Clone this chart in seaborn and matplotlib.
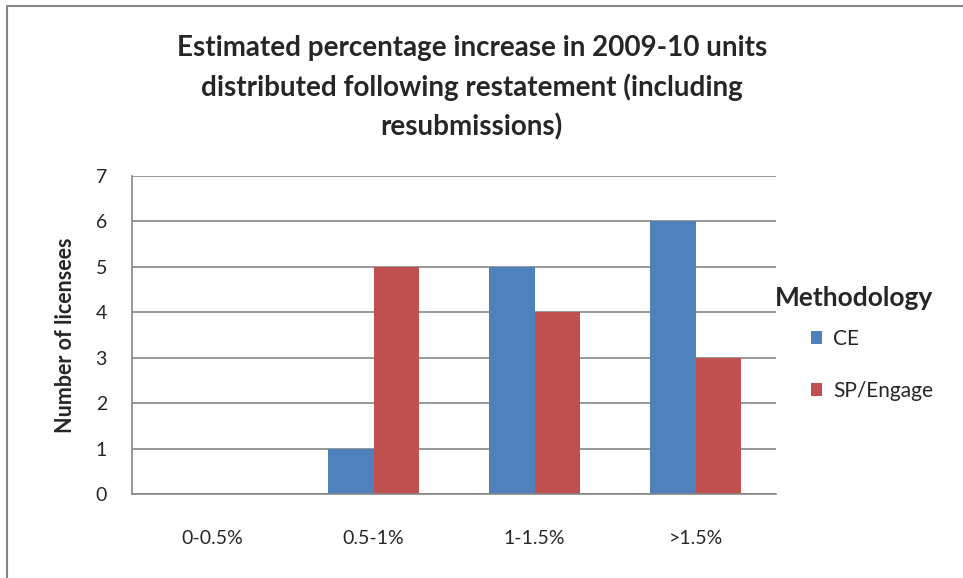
import pandas as pd
import numpy as np
import matplotlib
matplotlib.use('Agg')
import matplotlib.pyplot as plt
import seaborn as sns
from matplotlib.patches import Rectangle

# Данные
categories = ['0-0.5%', '0.5-1%', '1-1.5%', '>1.5%']
ce_values = [0, 1, 5, 6]
sp_values = [0, 5, 4, 3]
series_names = ['CE', 'SP/Engage']

data = pd.DataFrame({
    'range': categories * 2,
    'count': ce_values + sp_values,
    'Methodology': [series_names[0]] * 4 + [series_names[1]] * 4,
})

sns.set_style('white')
plt.rcParams['font.family'] = ['Lato', 'DejaVu Sans']

fig = plt.figure(figsize=(9.63, 5.78), dpi=100)
ax = fig.add_axes([0.137, 0.1453, 0.669, 0.5502])

sns.barplot(data=data, x='range', y='count', hue='Methodology',
            palette=['#4F81BD', '#C0504D'], width=0.567, gap=0,
            saturation=1, linewidth=0, ax=ax, order=categories, hue_order=series_names)

grey = '#868686'
ax.set_ylim(0, 7)
ax.set_xlim(-0.5, 3.5)
ax.set_yticks(range(0, 8))
ax.yaxis.grid(True, color=grey, linewidth=1.2)
ax.set_axisbelow(True)
for side in ['top', 'right']:
    ax.spines[side].set_visible(False)
for side in ['left', 'bottom']:
    ax.spines[side].set_color(grey)
    ax.spines[side].set_linewidth(1.2)

ax.set_xticks(np.arange(-0.5, 4, 1), minor=True)
ax.tick_params(axis='x', which='major', length=0, pad=26, labelsize=14)
ax.tick_params(axis='x', which='minor', length=8, color=grey, width=1.2)
ax.tick_params(axis='y', length=8, color=grey, width=1.2, labelsize=14, pad=10)

ax.set_xlabel('')
ax.set_ylabel('Number of licensees', fontsize=15.5, fontweight='bold', labelpad=14)

fig.suptitle('Estimated percentage increase in 2009-10 units\n'
             'distributed following restatement (including\nresubmissions)',
             x=0.49, y=0.94, fontsize=20, fontweight='bold', linespacing=1.55)

# заголовок легенды
fig.text(775 / 963, 1 - 298 / 578, 'Methodology', fontsize=19, fontweight='bold',
         ha='left', va='center')

leg = ax.legend(loc='upper left', bbox_to_anchor=(1.054, 0.52),
                frameon=False, fontsize=15, handlelength=0.55, handleheight=0.55,
                labelspacing=1.55, handletextpad=0.5, borderaxespad=0, borderpad=0)

# рамка диаграммы
fig.patches.append(Rectangle((7 / 963, -0.1), 1.2, 1.1 - 6 / 578, transform=fig.transFigure,
                             fill=False, edgecolor=grey, linewidth=1.5))

plt.savefig('out.png', dpi=100)
